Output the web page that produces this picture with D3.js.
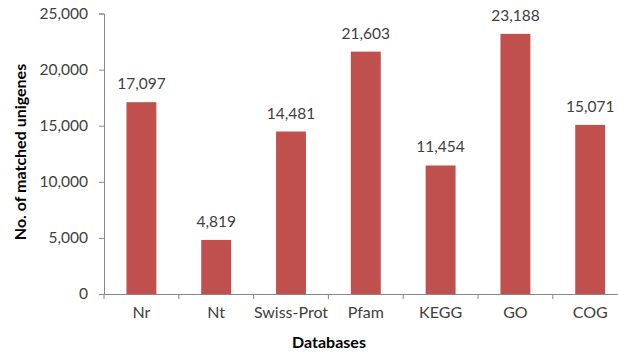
<!DOCTYPE html>
<html>
<head>
<meta charset="utf-8">
<script src="https://cdn.jsdelivr.net/npm/d3@7"></script>
<style>
  html, body { margin: 0; padding: 0; background: #fff; }
  svg { display: block; }
  text { font-family: Lato, "Open Sans", sans-serif; }
</style>
</head>
<body>
<svg id="chart" width="618" height="354"></svg>
<script>
// Unigene annotation counts per database
const databases = ["Nr", "Nt", "Swiss-Prot", "Pfam", "KEGG", "GO", "COG"];
const matchedCounts = [17097, 4819, 14481, 21603, 11454, 23188, 15071];
const yTicks = [0, 5000, 10000, 15000, 20000, 25000];

const svg = d3.select("#chart");
const left = 104, zeroY = 294, topY = 13.5;
const band = 74.8;

const x = d3.scaleBand()
  .domain(databases)
  .range([left, left + band * databases.length])
  .paddingInner(0.6)
  .paddingOuter(0.3);

const y = d3.scaleLinear().domain([0, 25000]).range([zeroY, topY]);
const fmt = d3.format(",");
const axisColor = "#888888";
const textColor = "#404040";

// Bars
svg.append("g").selectAll("rect")
  .data(databases)
  .join("rect")
  .attr("x", d => x(d))
  .attr("width", x.bandwidth())
  .attr("y", (d, i) => y(matchedCounts[i]))
  .attr("height", (d, i) => zeroY - y(matchedCounts[i]))
  .attr("fill", "#C0504D");

// Value labels
svg.append("g").selectAll("text")
  .data(databases)
  .join("text")
  .attr("x", d => x(d) + x.bandwidth() / 2)
  .attr("y", (d, i) => y(matchedCounts[i]) - 13)
  .attr("text-anchor", "middle")
  .attr("font-size", 15.5)
  .attr("fill", textColor)
  .text((d, i) => fmt(matchedCounts[i]));

// Y axis
const yAxis = svg.append("g")
  .attr("transform", `translate(${left},0)`)
  .call(d3.axisLeft(y).tickValues(yTicks).tickFormat(fmt).tickSize(5).tickPadding(11));
yAxis.select(".domain").attr("stroke", axisColor);
yAxis.selectAll(".tick line").attr("stroke", axisColor);
yAxis.selectAll(".tick text").attr("font-size", 15.5).attr("fill", textColor)
  .attr("font-family", "Lato, sans-serif");

// X axis: line with tick marks at band boundaries
const xg = svg.append("g");
xg.append("line")
  .attr("x1", left).attr("x2", x.range()[1])
  .attr("y1", zeroY + 0.5).attr("y2", zeroY + 0.5)
  .attr("stroke", axisColor);
xg.selectAll("line.tk")
  .data(d3.range(databases.length + 1))
  .join("line")
  .attr("class", "tk")
  .attr("x1", i => left + i * x.step()).attr("x2", i => left + i * x.step())
  .attr("y1", zeroY).attr("y2", zeroY + 5)
  .attr("stroke", axisColor);
xg.selectAll("text")
  .data(databases)
  .join("text")
  .attr("x", d => x(d) + x.bandwidth() / 2)
  .attr("y", 318)
  .attr("text-anchor", "middle")
  .attr("font-size", 16)
  .attr("fill", textColor)
  .text(d => d);

// Axis titles
svg.append("text")
  .attr("x", 329).attr("y", 348)
  .attr("text-anchor", "middle")
  .attr("font-size", 16).attr("font-weight", "bold")
  .attr("fill", "#000")
  .text("Databases");

svg.append("text")
  .attr("transform", "translate(26,152) rotate(-90)")
  .attr("text-anchor", "middle")
  .attr("font-size", 16).attr("font-weight", "bold")
  .attr("fill", "#000")
  .text("No. of matched unigenes");
</script>
</body>
</html>
